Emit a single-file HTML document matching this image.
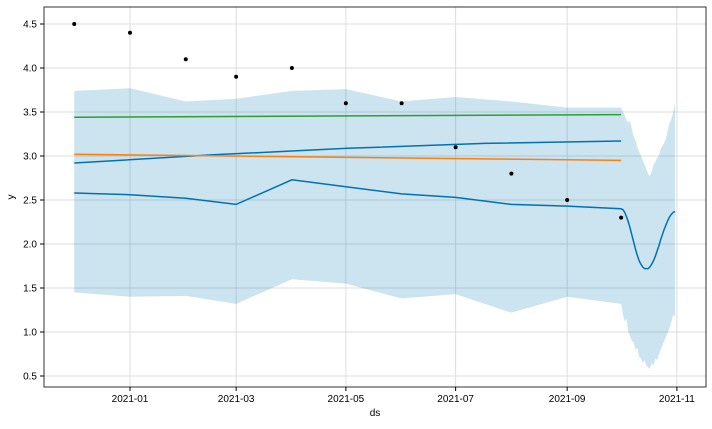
<!DOCTYPE html>
<html><head><meta charset="utf-8"><style>
body{margin:0;background:#fff;width:712px;height:424px;overflow:hidden;font-family:"Liberation Sans",sans-serif}
svg text{font-family:"Liberation Sans",sans-serif;font-size:10px;fill:#000}
</style></head><body>
<svg id="chart" width="712" height="424"></svg>
<script>
const monthDates=["2020-12-01","2021-01-01","2021-02-01","2021-03-01","2021-04-01","2021-05-01","2021-06-01","2021-07-01","2021-08-01","2021-09-01","2021-10-01"];
const actualY=[4.5,4.4,4.1,3.9,4.0,3.6,3.6,3.1,2.8,2.5,2.3];
const yhatMonthly=[2.58,2.56,2.52,2.45,2.73,2.65,2.57,2.53,2.45,2.43,2.40];
const upperMonthly=[3.74,3.77,3.62,3.65,3.74,3.76,3.62,3.67,3.62,3.55,3.55];
const lowerMonthly=[1.45,1.40,1.41,1.32,1.60,1.55,1.38,1.43,1.22,1.40,1.32];
const yhatDaily=[2.40,2.39,2.36,2.31,2.25,2.18,2.10,2.02,1.94,1.87,1.81,1.77,1.74,1.72,1.72,1.72,1.74,1.77,1.81,1.86,1.92,1.98,2.05,2.11,2.17,2.22,2.27,2.31,2.34,2.36,2.37];
const upperDaily=[3.55,3.50,3.46,3.40,3.38,3.40,3.30,3.22,3.18,3.10,3.05,3.00,2.95,2.90,2.85,2.80,2.77,2.82,2.90,2.93,2.98,3.00,3.08,3.12,3.15,3.20,3.30,3.38,3.42,3.50,3.60];
const lowerDaily=[1.32,1.20,1.12,1.15,1.00,0.95,0.90,0.88,0.80,0.82,0.72,0.70,0.65,0.68,0.62,0.60,0.58,0.65,0.62,0.70,0.68,0.75,0.80,0.85,0.90,0.95,1.00,1.05,1.12,1.20,1.17];
const greenLine=[3.44,3.47];
const blueTrendLine=[2.92,3.17];
const orangeLine=[3.02,2.95];
const yTicks=[0.5,1.0,1.5,2.0,2.5,3.0,3.5,4.0,4.5];
const xTicks=["2021-01","2021-03","2021-05","2021-07","2021-09","2021-11"];

const NS="http://www.w3.org/2000/svg";
const svg=document.getElementById('chart');
const L=44,R=706,T=7,B=387;
const base=Date.UTC(2021,0,1);
function dayOf(s){const p=s.split('-');return (Date.UTC(+p[0],+p[1]-1,+(p[2]||1))-base)/864e5;}
function X(d){return 130+d*1.799;}
function Y(v){return 376-(v-0.5)*88;}
function mk(tag,attrs,name){const e=document.createElementNS(NS,tag);for(const k in attrs)e.setAttribute(k,attrs[k]);


svg.appendChild(e);return e;}
// grid
yTicks.forEach(v=>{mk('line',{x1:L,x2:R,y1:Y(v),y2:Y(v),stroke:'#dcdcdc','stroke-width':1},'y-gridline');
mk('line',{x1:L-4,x2:L,y1:Y(v),y2:Y(v),stroke:'#000'},'y-tick');
const t=mk('text',{x:L-7,y:Y(v)+3.5,'text-anchor':'end'},'y-tick-label');t.textContent=v.toFixed(1);});
xTicks.forEach(s=>{const x=X(dayOf(s));mk('line',{x1:x,x2:x,y1:T,y2:B,stroke:'#dcdcdc'},'x-gridline');
mk('line',{x1:x,x2:x,y1:B,y2:B+4,stroke:'#000'},'x-tick');
const t=mk('text',{x:x,y:B+15,'text-anchor':'middle'},'x-tick-label');t.textContent=s;});
// band
const mD=monthDates.map(dayOf);const oct=dayOf("2021-10-01");
let up=[],lo=[],fc=[];
mD.forEach((d,i)=>{up.push([X(d),Y(upperMonthly[i])]);lo.push([X(d),Y(lowerMonthly[i])]);fc.push([X(d),Y(yhatMonthly[i])]);});
for(let i=1;i<yhatDaily.length;i++){up.push([X(oct+i),Y(upperDaily[i])]);lo.push([X(oct+i),Y(lowerDaily[i])]);fc.push([X(oct+i),Y(yhatDaily[i])]);}
const pts=up.concat(lo.slice().reverse()).map(p=>p.join(',')).join(' ');
mk('polygon',{points:pts,fill:'rgba(0,114,178,0.2)',stroke:'none'},'uncertainty-band');
const x0=X(mD[0]),x1=X(oct);
mk('line',{x1:x0,x2:x1,y1:Y(greenLine[0]),y2:Y(greenLine[1]),stroke:'#2ca02c','stroke-width':1.5},'green-line');
mk('polyline',{points:[0,0.25,0.5,0.75,1].map(f=>[x0+(x1-x0)*f,Y(blueTrendLine[0]+(blueTrendLine[1]-blueTrendLine[0])*(1-Math.pow(1-f,1.6)))].join(',')).join(' '),fill:'none',stroke:'#0072B2','stroke-width':1.5},'trend-line');
mk('line',{x1:x0,x2:x1,y1:Y(orangeLine[0]),y2:Y(orangeLine[1]),stroke:'#ff7f0e','stroke-width':1.5},'orange-line');
mk('polyline',{points:fc.map(p=>p.join(',')).join(' '),fill:'none',stroke:'#0072B2','stroke-width':1.5},'forecast-line');
mD.forEach((d,i)=>mk('circle',{cx:X(d),cy:Y(actualY[i]),r:2,fill:'#000'},'data-point'));
mk('rect',{x:L,y:T,width:R-L,height:B-T,fill:'none',stroke:'#000','stroke-width':0.8},'plot-frame');
let t=mk('text',{x:(L+R)/2,y:416,'text-anchor':'middle'},'x-axis-title');t.textContent='ds';
t=mk('text',{x:14,y:(T+B)/2,'text-anchor':'middle',transform:`rotate(-90 14 ${(T+B)/2})`},'y-axis-title');t.textContent='y';
</script>
</body></html>
